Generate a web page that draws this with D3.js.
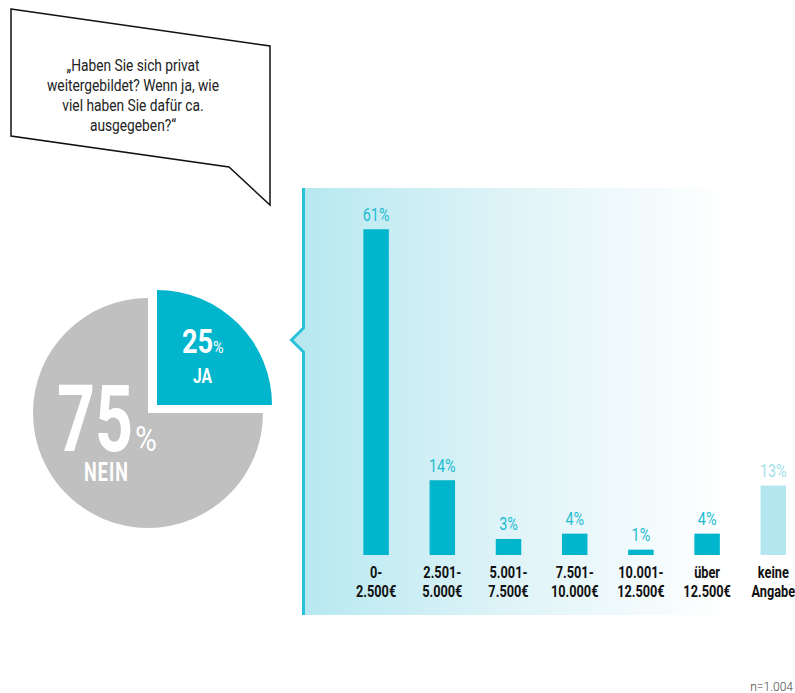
<!DOCTYPE html>
<html>
<head>
<meta charset="utf-8">
<script src="https://cdn.jsdelivr.net/npm/d3@7"></script>
<style>
  html, body { margin: 0; padding: 0; background: #fff; }
  svg { display: block; }
  .cond { font-family: Roboto, "Liberation Sans", sans-serif; }
</style>
</head>
<body>
<svg id="chart" width="795" height="693"></svg>
<script>
// Survey: private further education and spending
const question = ["„Haben Sie sich privat", "weitergebildet? Wenn ja, wie", "viel haben Sie dafür ca.", "ausgegeben?“"];

const pieLabels = ["JA", "NEIN"];
const pieValues = [25, 75];

const categories = ["0-2.500", "2.501-5.000", "5.001-7.500", "7.501-10.000", "10.001-12.500", "über 12.500", "keine Angabe"];
const categoryLines = [
  ["0-", "2.500€"],
  ["2.501-", "5.000€"],
  ["5.001-", "7.500€"],
  ["7.501-", "10.000€"],
  ["10.001-", "12.500€"],
  ["über", "12.500€"],
  ["keine", "Angabe"]
];
const spendValues = [61, 14, 3, 4, 1, 4, 13];
const noAnswer = "keine Angabe";
const sampleNote = "n=1.004";

const BLUE = "#00b5cc";
const BLUE_TEXT = "#1bbcd3";
const LIGHT = "#b3e6ef";
const LIGHT_TEXT = "#a4dfeb";
const GRAY = "#c0c0c0";

const svg = d3.select("#chart");

// condensed-looking text: place at (x, y) and squeeze horizontally
function squeezed(sel, x, y, sx) {
  return sel.attr("transform", `translate(${x},${y}) scale(${sx},1)`);
}

// ---- speech bubble with the question ----
svg.append("path")
  .attr("d", "M11,9 L270,46 L270,205 L229,167 L11,136 Z")
  .attr("fill", "#fff")
  .attr("stroke", "#111")
  .attr("stroke-width", 1.5)
  .attr("stroke-linejoin", "miter");

svg.append("g").selectAll("text")
  .data(question)
  .join("text")
  .attr("class", "cond")
  .attr("text-anchor", "middle")
  .attr("font-size", 17)
  .attr("fill", "#222")
  .each(function (d, i) { squeezed(d3.select(this), 133, 71 + i * 20, 0.81); })
  .text(d => d);

// ---- pie: JA / NEIN ----
const R = 115;
const pie = d3.pie().sort(null).startAngle(0).endAngle(2 * Math.PI)(pieValues);
const arc = d3.arc().innerRadius(0).outerRadius(R);
const pieG = svg.append("g").attr("transform", "translate(148,413)");

pieG.append("path")
  .attr("d", arc(pie[1]))
  .attr("fill", GRAY);
pieG.append("path")
  .attr("d", arc(pie[0]))
  .attr("transform", "translate(9,-8)")
  .attr("fill", BLUE);

// NEIN label
squeezed(pieG.append("text").attr("class", "cond"), -91, 38, 0.72)
  .attr("font-size", 92).attr("font-weight", "bold").attr("fill", "#fff")
  .text(pieValues[1]);
squeezed(pieG.append("text").attr("class", "cond"), -13, 38, 0.85)
  .attr("font-size", 35).attr("fill", "#fff")
  .text("%");
squeezed(pieG.append("text").attr("class", "cond"), -41.5, 68, 0.72)
  .attr("text-anchor", "middle")
  .attr("font-size", 25).attr("font-weight", "bold").attr("fill", "#fff")
  .attr("letter-spacing", 1.5)
  .text(pieLabels[1]);

// JA label
squeezed(pieG.append("text").attr("class", "cond"), 34, -60, 0.8)
  .attr("font-size", 34).attr("font-weight", "bold").attr("fill", "#fff")
  .text(pieValues[0]);
squeezed(pieG.append("text").attr("class", "cond"), 65, -60, 0.85)
  .attr("font-size", 17).attr("fill", "#fff")
  .text("%");
squeezed(pieG.append("text").attr("class", "cond"), 54.5, -30, 0.78)
  .attr("text-anchor", "middle")
  .attr("font-size", 20).attr("font-weight", "bold").attr("fill", "#fff")
  .text(pieLabels[0]);

// ---- detail panel with gradient background ----
const defs = svg.append("defs");
const grad = defs.append("linearGradient")
  .attr("id", "panelFade")
  .attr("gradientUnits", "userSpaceOnUse")
  .attr("x1", 303).attr("x2", 730).attr("y1", 0).attr("y2", 0);
grad.append("stop").attr("offset", "0%").attr("stop-color", "#b7e8f0");
grad.append("stop").attr("offset", "50%").attr("stop-color", "#e0f4f8");
grad.append("stop").attr("offset", "100%").attr("stop-color", "#ffffff");

svg.append("path")
  .attr("d", "M303,188 H730 V615 H303 V352 L291,340 L303,328 Z")
  .attr("fill", "url(#panelFade)");
svg.append("path")
  .attr("d", "M303.5,188 V328 L291.5,340 L303.5,352 V615")
  .attr("fill", "none")
  .attr("stroke", "#2ac2d8")
  .attr("stroke-width", 3);

// ---- bar chart of spending ----
const x = d3.scaleBand()
  .domain(categories)
  .range([343, 343 + 7 * 66.2])
  .paddingInner(0.615)
  .paddingOuter(0.3075);
const y = d3.scaleLinear().domain([0, 100]).range([555, 21]);
const cx = i => x(categories[i]) + x.bandwidth() / 2;

const barG = svg.append("g");
barG.selectAll("rect")
  .data(spendValues)
  .join("rect")
  .attr("x", (d, i) => x(categories[i]))
  .attr("y", d => y(d))
  .attr("width", x.bandwidth())
  .attr("height", d => y(0) - y(d))
  .attr("fill", (d, i) => categories[i] === noAnswer ? LIGHT : BLUE);

barG.selectAll("text.val")
  .data(spendValues)
  .join("text")
  .attr("class", "val cond")
  .attr("text-anchor", "middle")
  .attr("font-size", 18)
  .attr("fill", (d, i) => categories[i] === noAnswer ? LIGHT_TEXT : BLUE_TEXT)
  .each(function (d, i) { squeezed(d3.select(this), cx(i), y(d) - 8.5, 0.8); })
  .text(d => d + "%");

// category axis labels (two lines each)
barG.selectAll("g.cat")
  .data(categoryLines)
  .join("g")
  .attr("class", "cat")
  .each(function (lines, i) {
    d3.select(this).selectAll("text")
      .data(lines)
      .join("text")
      .attr("class", "cond")
      .attr("text-anchor", "middle")
      .attr("font-size", 17)
      .attr("font-weight", "bold")
      .attr("fill", "#111")
      .each(function (t, j) { squeezed(d3.select(this), cx(i), 578 + j * 19, 0.75); })
      .text(t => t);
  });

// sample size note
svg.append("text")
  .attr("x", 793)
  .attr("y", 691)
  .attr("text-anchor", "end")
  .attr("font-family", "Roboto, 'Open Sans', sans-serif")
  .attr("font-weight", 300)
  .attr("font-size", 12)
  .attr("fill", "#444")
  .text(sampleNote);
</script>
</body>
</html>
